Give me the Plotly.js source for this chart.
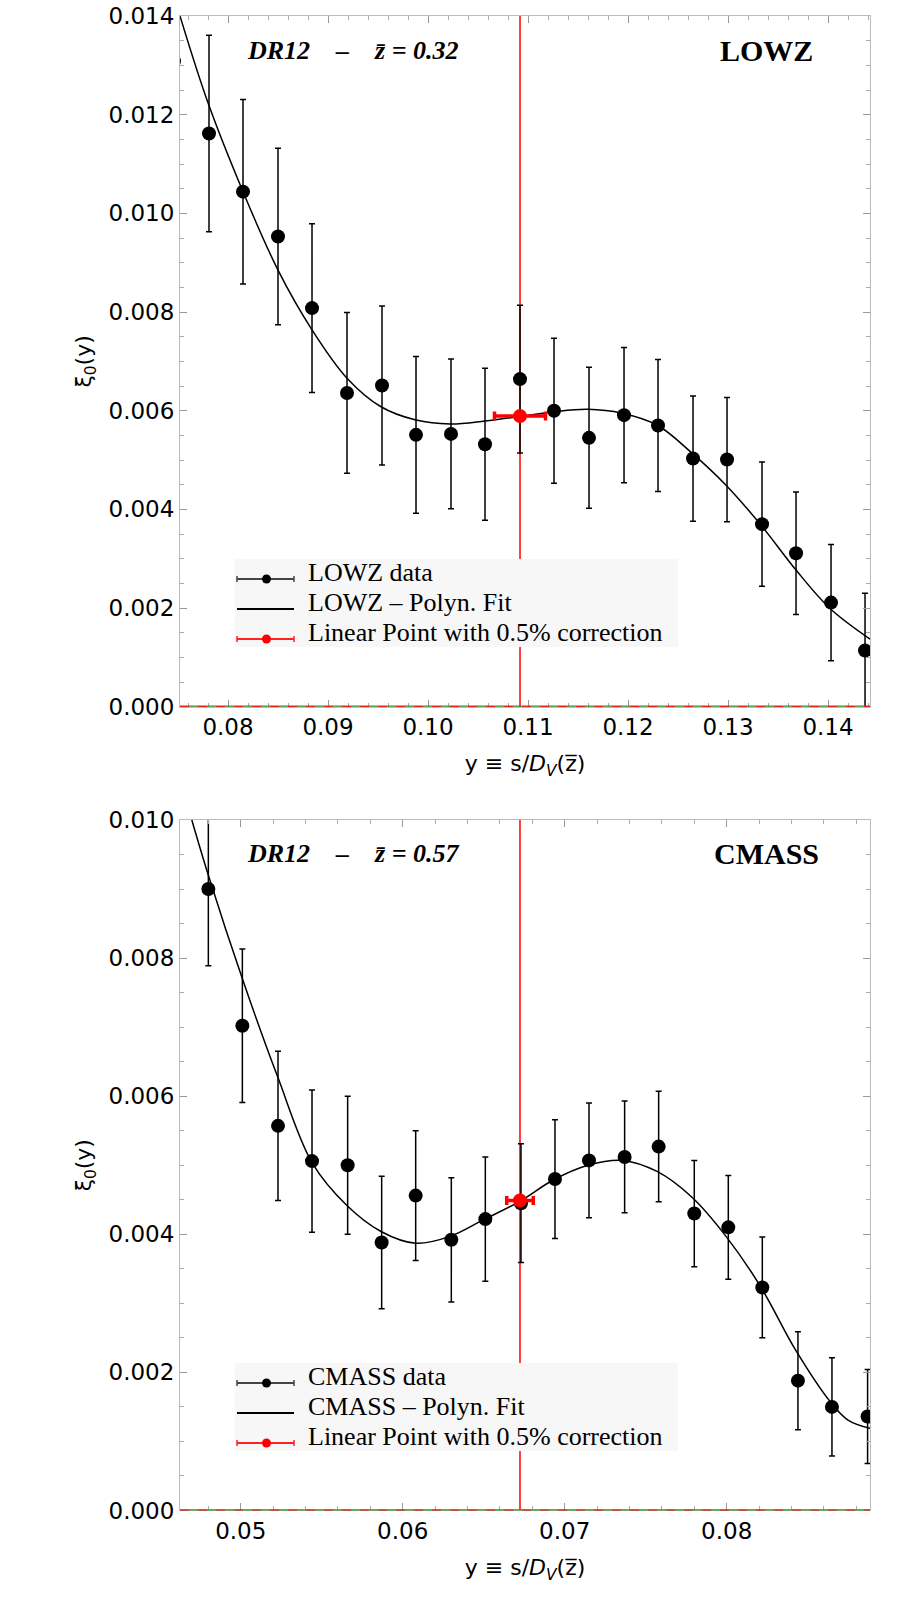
<!DOCTYPE html>
<html>
<head>
<meta charset="utf-8">
<script src="https://cdn.plot.ly/plotly-3.0.1.min.js"></script>
<style>html,body{margin:0;padding:0;background:#fff;}#plot{width:900px;height:1605px;}</style>
</head>
<body>
<div id="plot"></div>
<script>
// ---------- LOWZ (z = 0.32) ----------
const lowzX   = [0.0746,0.0781,0.0815,0.0850,0.0884,0.0919,0.0954,0.0988,0.1023,0.1057,0.1092,0.1126,0.1161,0.1196,0.1230,0.1265,0.1299,0.1334,0.1368,0.1403,0.1437];
const lowzY   = [0.01309,0.01162,0.01044,0.00953,0.00808,0.00636,0.00651,0.00551,0.00553,0.00532,0.00664,0.00600,0.00545,0.00591,0.00570,0.00503,0.00501,0.00370,0.00311,0.00211,0.00114];
const lowzErr = [0.00205,0.00199,0.00187,0.00179,0.00171,0.00163,0.00161,0.00159,0.00152,0.00154,0.00150,0.00147,0.00143,0.00137,0.00134,0.00127,0.00126,0.00126,0.00124,0.00118,0.00116];
const lowzFitX = [0.0752,0.0780,0.0815,0.0850,0.0884,0.0919,0.0953,0.0988,0.1022,0.1057,0.1091,0.1126,0.1160,0.1194,0.1229,0.1264,0.1298,0.1333,0.1368,0.1402,0.1442];
const lowzFitY = [0.01400,0.01224,0.01044,0.00885,0.00764,0.00666,0.00608,0.00581,0.00573,0.00579,0.00588,0.00598,0.00603,0.00595,0.00571,0.00514,0.00449,0.00368,0.00277,0.00199,0.00137];
const lowzLP   = {x: 0.1092, y: 0.00589, xerr: 0.00255};

// ---------- CMASS (z = 0.57) ----------
const cmassX   = [0.0480,0.0501,0.0523,0.0544,0.0566,0.0587,0.0608,0.0630,0.0651,0.0673,0.0694,0.0715,0.0737,0.0758,0.0780,0.0801,0.0822,0.0844,0.0865,0.0887];
const cmassY   = [0.00900,0.00702,0.00557,0.00506,0.00500,0.00388,0.00456,0.00392,0.00422,0.00445,0.00480,0.00507,0.00512,0.00527,0.00430,0.00410,0.00323,0.00188,0.00150,0.00136];
const cmassErr = [0.00111,0.00111,0.00108,0.00103,0.00100,0.00096,0.00094,0.00090,0.00090,0.00086,0.00086,0.00083,0.00081,0.00080,0.00077,0.00075,0.00073,0.00071,0.00071,0.00068];
const cmassFitX = [0.04698,0.04800,0.05016,0.05228,0.05442,0.05654,0.05866,0.06080,0.06292,0.06506,0.06718,0.06932,0.07144,0.07356,0.07570,0.07784,0.07996,0.08210,0.08424,0.08638,0.08749,0.08885];
const cmassFitY = [0.01000,0.00920,0.00766,0.00628,0.00503,0.00442,0.00404,0.00387,0.00397,0.00422,0.00447,0.00479,0.00500,0.00507,0.00491,0.00454,0.00397,0.00324,0.00233,0.00158,0.00131,0.00119];
const cmassLP   = {x: 0.06724, y: 0.00449, xerr: 0.00082};

// ---------- axes / labels ----------
const lowzXRange = [0.0752, 0.1442];
const lowzYRange = [0, 0.014];
const cmassXRange = [0.04625, 0.08885];
const cmassYRange = [0, 0.010];
const lowzLegend  = ['LOWZ data', 'LOWZ \u2013 Polyn. Fit', 'Linear Point with 0.5% correction'];
const cmassLegend = ['CMASS data', 'CMASS \u2013 Polyn. Fit', 'Linear Point with 0.5% correction'];

const SANS = 'DejaVu Sans, Arial, sans-serif';
const SERIF = 'Liberation Serif, Times New Roman, serif';
const W = 900, H = 1605;
const px = v => v / W, py = v => 1 - v / H;

function panelTraces(names, xs, ys, errs, fx, fy, lp, xa, ya) {
  return [
    {x: xs, y: ys, xaxis: xa, yaxis: ya, type: 'scatter', mode: 'markers', name: names[0], showlegend: false,
     marker: {color: 'black', size: 14},
     error_y: {type: 'data', array: errs, visible: true, color: 'black', thickness: 1.5, width: 3}},
    {x: fx, y: fy, xaxis: xa, yaxis: ya, type: 'scatter', mode: 'lines', name: names[1], showlegend: false,
     line: {color: 'black', width: 1.5, shape: 'spline', smoothing: 1}},
    {x: [lp.x], y: [lp.y], xaxis: xa, yaxis: ya, type: 'scatter', mode: 'markers', name: names[2], showlegend: false,
     marker: {color: 'red', size: 14},
     error_x: {type: 'data', array: [lp.xerr], visible: true, color: 'red', thickness: 3.5, width: 4.5}}
  ];
}

const data = [].concat(
  panelTraces(lowzLegend, lowzX, lowzY, lowzErr, lowzFitX, lowzFitY, lowzLP, 'x', 'y'),
  panelTraces(cmassLegend, cmassX, cmassY, cmassErr, cmassFitX, cmassFitY, cmassLP, 'x2', 'y2')
);

function xAxis(range, anchor) {
  return {
    domain: [0.2, 0.9667], range: range, anchor: anchor,
    dtick: 0.01, tick0: 0, tickformat: '.2f',
    ticks: 'inside', ticklen: 7, tickwidth: 1, tickcolor: '#999',
    minor: {dtick: 0.002, tick0: 0, ticks: 'inside', ticklen: 4, tickcolor: '#aaa'},
    showline: true, linecolor: '#bbb', linewidth: 1, mirror: 'ticks',
    showgrid: false, zeroline: false,
    tickfont: {family: SANS, size: 23, color: 'black'},
    title: {text: 'y \u2261 s/<i>D</i><sub><i>V</i></sub>(z\u0305)', font: {family: SANS, size: 22, color: 'black'}, standoff: 16}
  };
}
function yAxis(range, domain, anchor) {
  return {
    domain: domain, range: range, anchor: anchor,
    dtick: 0.002, tick0: 0, tickformat: '.3f',
    ticks: 'inside', ticklen: 7, tickwidth: 1, tickcolor: '#999',
    minor: {dtick: 0.0005, tick0: 0, ticks: 'inside', ticklen: 4, tickcolor: '#aaa'},
    showline: true, linecolor: '#bbb', linewidth: 1, mirror: 'ticks',
    showgrid: false, zeroline: false,
    tickfont: {family: SANS, size: 23, color: 'black'},
    title: {text: '\u03be<sub>0</sub>(y)', font: {family: SANS, size: 22, color: 'black'}, standoff: 10}
  };
}

function panelShapes(xa, ya, lp) {
  return [
    {type: 'line', layer: 'below', xref: xa, yref: ya + ' domain', x0: lp.x, x1: lp.x, y0: 0, y1: 1,
     line: {color: 'red', width: 1.5}},
    {type: 'line', layer: 'above', xref: xa + ' domain', yref: ya, x0: 0, x1: 1, y0: 0, y1: 0,
     line: {color: '#2e8b2e', width: 2.5}},
    {type: 'line', layer: 'above', xref: xa + ' domain', yref: ya, x0: 0, x1: 1, y0: 0, y1: 0,
     line: {color: 'red', width: 1.2, dash: 'dash'}}
  ];
}

// hand-drawn legend box (matches the compact Mathematica legend)
function legendShapes(top) {
  const s = [];
  s.push({type: 'rect', layer: 'above', xref: 'paper', yref: 'paper',
          x0: px(235), x1: px(678), y0: py(top + 88), y1: py(top), fillcolor: '#f7f7f7', line: {width: 0}});
  const rows = [top + 20, top + 50, top + 80];
  const cols = ['#444', 'black', '#f22'];
  rows.forEach((r, i) => {
    s.push({type: 'line', layer: 'above', xref: 'paper', yref: 'paper', x0: px(237), x1: px(294), y0: py(r), y1: py(r),
            line: {color: cols[i], width: 2}});
    if (i !== 1) {
      [237, 294].forEach(c => s.push({type: 'line', layer: 'above', xref: 'paper', yref: 'paper',
        x0: px(c), x1: px(c), y0: py(r - 3), y1: py(r + 3), line: {color: cols[i], width: 1.5}}));
      s.push({type: 'circle', layer: 'above', xref: 'paper', yref: 'paper', xsizemode: 'pixel', ysizemode: 'pixel',
              xanchor: px(266.5), yanchor: py(r), x0: -4.5, x1: 4.5, y0: -4.5, y1: 4.5,
              fillcolor: i === 0 ? 'black' : 'red', line: {width: 0}});
    }
  });
  return s;
}
function legendTexts(top, labels) {
  return labels.map((t, i) => ({
    xref: 'paper', yref: 'paper', x: px(306), y: py(top + 13 + 30 * i), xanchor: 'left', yanchor: 'middle',
    showarrow: false, text: t, font: {family: SERIF, size: 26, color: 'black'}
  }));
}

const TITLE_SP = '\u00a0\u00a0\u00a0\u00a0';
const layout = {
  width: W, height: H,
  margin: {l: 0, r: 0, t: 0, b: 0},
  paper_bgcolor: 'white', plot_bgcolor: 'white',
  showlegend: false,
  xaxis: xAxis(lowzXRange, 'y'),
  yaxis: yAxis(lowzYRange, [0.5597, 0.9900], 'x'),
  xaxis2: xAxis(cmassXRange, 'y2'),
  yaxis2: yAxis(cmassYRange, [0.0589, 0.4891], 'x2'),
  shapes: [].concat(panelShapes('x', 'y', lowzLP), panelShapes('x2', 'y2', cmassLP),
                    legendShapes(559), legendShapes(1363)),
  annotations: [
    {xref: 'paper', yref: 'paper', x: px(245), y: py(50), xanchor: 'left', yanchor: 'middle', showarrow: false,
     text: '<b><i>DR12' + TITLE_SP + '\u2013\u00a0\u00a0\u00a0\u00a0z\u0304\u00a0=\u00a00.32</i></b>', font: {family: SERIF, size: 26, color: 'black'}},
    {xref: 'paper', yref: 'paper', x: px(766), y: py(50), xanchor: 'center', yanchor: 'middle', showarrow: false,
     text: '<b>LOWZ</b>', font: {family: SERIF, size: 30, color: 'black'}},
    {xref: 'paper', yref: 'paper', x: px(245), y: py(853), xanchor: 'left', yanchor: 'middle', showarrow: false,
     text: '<b><i>DR12' + TITLE_SP + '\u2013\u00a0\u00a0\u00a0\u00a0z\u0304\u00a0=\u00a00.57</i></b>', font: {family: SERIF, size: 26, color: 'black'}},
    {xref: 'paper', yref: 'paper', x: px(766), y: py(853), xanchor: 'center', yanchor: 'middle', showarrow: false,
     text: '<b>CMASS</b>', font: {family: SERIF, size: 30, color: 'black'}}
  ].concat(legendTexts(559, lowzLegend), legendTexts(1363, cmassLegend))
};

Plotly.newPlot('plot', data, layout, {staticPlot: true, displayModeBar: false});
</script>
</body>
</html>
